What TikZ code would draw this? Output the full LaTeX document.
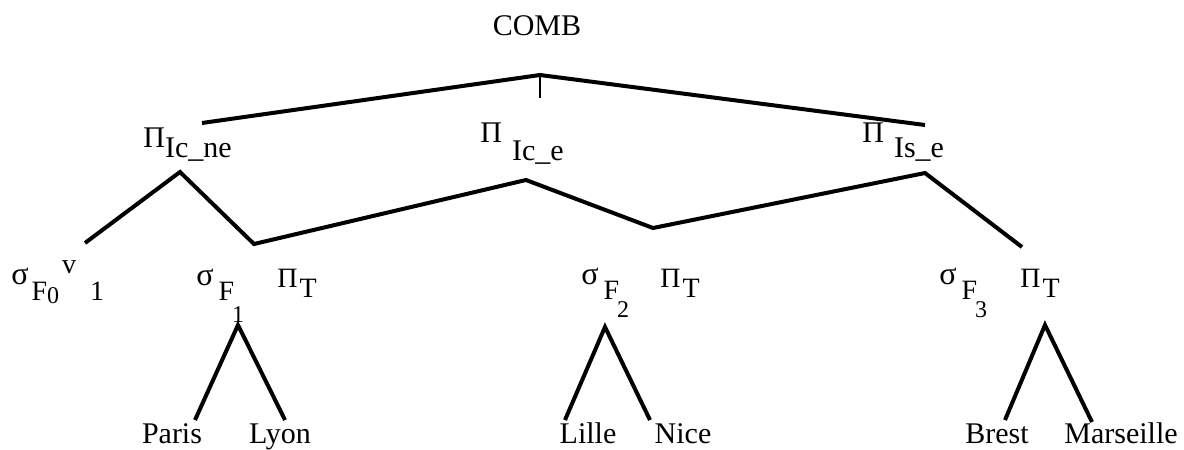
\documentclass[tikz,border=0pt]{standalone}
\usepackage{fontspec}
\setmainfont{Liberation Serif}
\newcommand\dn[2]{\raisebox{-#1}{#2}}
\newcommand\smallnum[1]{{\fontsize{12}{12}\selectfont #1}}
\newcommand\sig{{\fontsize{16}{16}\selectfont σ}}
\begin{document}
\begin{tikzpicture}[
    x=0.5pt, y=-0.5pt,
    big/.style={inner sep=0pt, anchor=base west, font=\fontsize{15}{18}\selectfont},
    row/.style={inner sep=0pt, anchor=base west, font=\fontsize{14}{16}\selectfont},
    leaf/.style={inner sep=0pt, anchor=base, font=\fontsize{15}{18}\selectfont},
    edge/.style={line width=2pt, line join=miter}
  ]
  \useasboundingbox (0,0) rectangle (1184,450);

  \node[big, anchor=base] (comb) at (537,35) {COMB};
  \node[big] (pne) at (143,147) {Π\dn{5pt}{Ic\_ne}};
  \node[big] (pce) at (480,142) {Π\hspace{5pt}\dn{9pt}{Ic\_e}};
  \node[big] (pse) at (862,142) {Π\hspace{5pt}\dn{7.5pt}{Is\_e}};

  \node[row] (sf0) at (11,284) {\sig\hspace{1.5pt}\dn{8pt}{F\dn{1.5pt}{\smallnum{0}}}\hspace{1.5pt}\raisebox{5.5pt}{v}\hspace{7pt}\dn{8pt}{1}};
  \node[row] (sf1) at (196,285) {\sig\hspace{2.5pt}\dn{7.5pt}{F}\hspace{-1pt}\dn{18.5pt}{\smallnum{1}}};
  \node[row] (pt1) at (277,287) {Π\hspace{1pt}\dn{5pt}{T}};
  \node[row] (sf2) at (581,284) {\sig\hspace{2.5pt}\dn{7.5pt}{F}\hspace{-1pt}\dn{16.5pt}{\smallnum{2}}};
  \node[row] (pt2) at (660,287) {Π\hspace{1pt}\dn{5pt}{T}};
  \node[row] (sf3) at (939,284) {\sig\hspace{2.5pt}\dn{7.5pt}{F}\hspace{-1pt}\dn{16.5pt}{\smallnum{3}}};
  \node[row] (pt3) at (1020,287) {Π\hspace{1pt}\dn{5pt}{T}};

  \node[leaf] (paris) at (172,443) {Paris};
  \node[leaf] (lyon) at (280,443) {Lyon};
  \node[leaf] (lille) at (588,443) {Lille};
  \node[leaf] (nice) at (683,443) {Nice};
  \node[leaf] (brest) at (997,443) {Brest};
  \node[leaf] (mars) at (1121,443) {Marseille};

  \coordinate (top) at (540,75);
  \coordinate (tick) at (540,98);
  \coordinate (cl) at (202,123);
  \coordinate (cr) at (925,125);
  \draw[edge] (cl) -- (top) -- (cr);
  \draw[line width=1pt] (top) -- (tick);

  \coordinate (f0) at (85,243);
  \coordinate (ne) at (180,172);
  \coordinate (t1) at (254,244);
  \coordinate (ce) at (526,180);
  \coordinate (t2) at (653,228);
  \coordinate (se) at (925,173);
  \coordinate (t3) at (1022,247);
  \draw[edge] (f0) -- (ne) -- (t1) -- (ce) -- (t2) -- (se) -- (t3);

  \coordinate (a1) at (238,325);
  \coordinate (a2) at (605,327);
  \coordinate (a3) at (1045,325);
  \draw[edge] (195,420) coordinate (l1) -- (a1) -- (285,420) coordinate (r1);
  \draw[edge] (565,420) coordinate (l2) -- (a2) -- (650,420) coordinate (r2);
  \draw[edge] (1005,420) coordinate (l3) -- (a3) -- (1092,422) coordinate (r3);
\end{tikzpicture}
\end{document}
